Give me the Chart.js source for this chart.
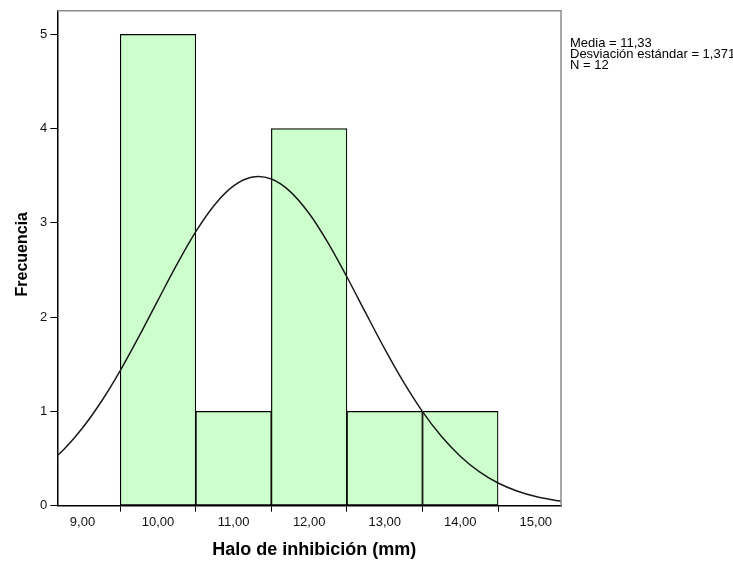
<!DOCTYPE html>
<html>
<head>
<meta charset="utf-8">
<script src="https://cdn.jsdelivr.net/npm/chart.js@4.4.1/dist/chart.umd.min.js"></script>
<style>
  html, body { margin: 0; padding: 0; background: #ffffff; }
  #wrap { width: 733px; height: 561px; position: relative; }
</style>
</head>
<body>
<div id="wrap"><canvas id="c" width="733" height="561"></canvas></div>
<script>
// ---- data ----
const binCenters = [10, 11, 12, 13, 14];
const frequencies = [5, 1, 4, 1, 1];
const curveX = [8.5, 8.75, 9.0, 9.25, 9.5, 9.75, 10.0, 10.25, 10.5, 10.75, 11.0, 11.25, 11.5, 11.75, 12.0, 12.25, 12.5, 12.75, 13.0, 13.25, 13.5, 13.75, 14.0, 14.25, 14.5, 14.75, 15.0, 15.25, 15.5];
const curveY = [0.415, 0.594, 0.824, 1.105, 1.433, 1.798, 2.181, 2.560, 2.907, 3.193, 3.392, 3.486, 3.465, 3.332, 3.099, 2.788, 2.426, 2.042, 1.663, 1.310, 0.998, 0.736, 0.524, 0.361, 0.241, 0.156, 0.097, 0.059, 0.034];
const xTickValues = [9, 10, 11, 12, 13, 14, 15];
const xTickLabels = ['9,00', '10,00', '11,00', '12,00', '13,00', '14,00', '15,00'];
const yTickValues = [0, 1, 2, 3, 4, 5];
const yTickLabels = ['0', '1', '2', '3', '4', '5'];
const statsLines = ['Media = 11,33', 'Desviación estándar = 1,371', 'N = 12'];
const xTitle = 'Halo de inhibición (mm)';
const yTitle = 'Frecuencia';

const FONT = 'Arial, "Liberation Sans", sans-serif';

const framePlugin = {
  id: 'frame',
  afterDraw(chart) {
    const ctx = chart.ctx;
    const a = chart.chartArea;
    ctx.save();
    ctx.strokeStyle = '#8c8c8c';
    ctx.lineWidth = 1.5;
    ctx.beginPath();
    ctx.moveTo(a.left, a.top);
    ctx.lineTo(a.right, a.top);
    ctx.lineTo(a.right, a.bottom);
    ctx.stroke();
    ctx.fillStyle = '#000000';
    ctx.font = '13px ' + FONT;
    ctx.textAlign = 'left';
    ctx.textBaseline = 'alphabetic';
    statsLines.forEach((t, i) => ctx.fillText(t, a.right + 9, 47 + i * 11.2));
    // axis titles
    ctx.font = 'bold 18px ' + FONT;
    ctx.textAlign = 'center';
    ctx.fillText(xTitle, (a.left + a.right) / 2 + 5, 555);
    ctx.save();
    ctx.translate(27, (a.top + a.bottom) / 2 - 4);
    ctx.rotate(-Math.PI / 2);
    ctx.font = 'bold 16px ' + FONT;
    ctx.fillText(yTitle, 0, 0);
    ctx.restore();
    ctx.restore();
  }
};

new Chart(document.getElementById('c'), {
  type: 'bar',
  data: {
    datasets: [
      {
        type: 'line',
        data: curveX.map((x, i) => ({ x: x, y: curveY[i] })),
        borderColor: '#1a1a1a',
        borderWidth: 1.5,
        pointRadius: 0,
        tension: 0.3,
        fill: false,
        order: 0
      },
      {
        type: 'bar',
        data: binCenters.map((x, i) => ({ x: x, y: frequencies[i] })),
        backgroundColor: '#ccffcc',
        borderColor: '#000000',
        borderWidth: 1.2,
        borderSkipped: false,
        barPercentage: 1.0,
        categoryPercentage: 1.0,
        order: 1
      }
    ]
  },
  options: {
    responsive: false,
    animation: false,
    events: [],
    layout: { padding: { left: 0, right: 172, top: 10, bottom: 0 } },
    plugins: { legend: { display: false }, tooltip: { enabled: false }, title: { display: false } },
    scales: {
      x: {
        type: 'linear',
        min: 8.667,
        max: 15.333,
        offset: false,
        afterBuildTicks: (s) => { s.ticks = xTickValues.map(v => ({ value: v })); },
        afterFit: (s) => { s.height = 55.3; },
        ticks: {
          autoSkip: false,
          maxRotation: 0,
          padding: 3,
          color: '#111111',
          font: { family: FONT, size: 13 },
          callback: (v) => { const i = xTickValues.indexOf(v); return i >= 0 ? xTickLabels[i] : ''; }
        },
        grid: { display: true, drawOnChartArea: false, drawTicks: true, tickLength: 6, color: '#000000', lineWidth: 1 },
        border: { display: true, color: '#000000', width: 1.5 },
        title: { display: false }
      },
      y: {
        type: 'linear',
        min: 0,
        max: 5.25,
        afterBuildTicks: (s) => { s.ticks = yTickValues.map(v => ({ value: v })); },
        afterFit: (s) => { s.width = 57.3; },
        ticks: {
          autoSkip: false,
          padding: 3,
          color: '#111111',
          font: { family: FONT, size: 13 },
          callback: (v) => { const i = yTickValues.indexOf(v); return i >= 0 ? yTickLabels[i] : ''; }
        },
        grid: { display: true, drawOnChartArea: false, drawTicks: true, tickLength: 7, color: '#000000', lineWidth: 1 },
        border: { display: true, color: '#000000', width: 1.5 },
        title: { display: false }
      }
    }
  },
  plugins: [framePlugin]
});
</script>
</body>
</html>
